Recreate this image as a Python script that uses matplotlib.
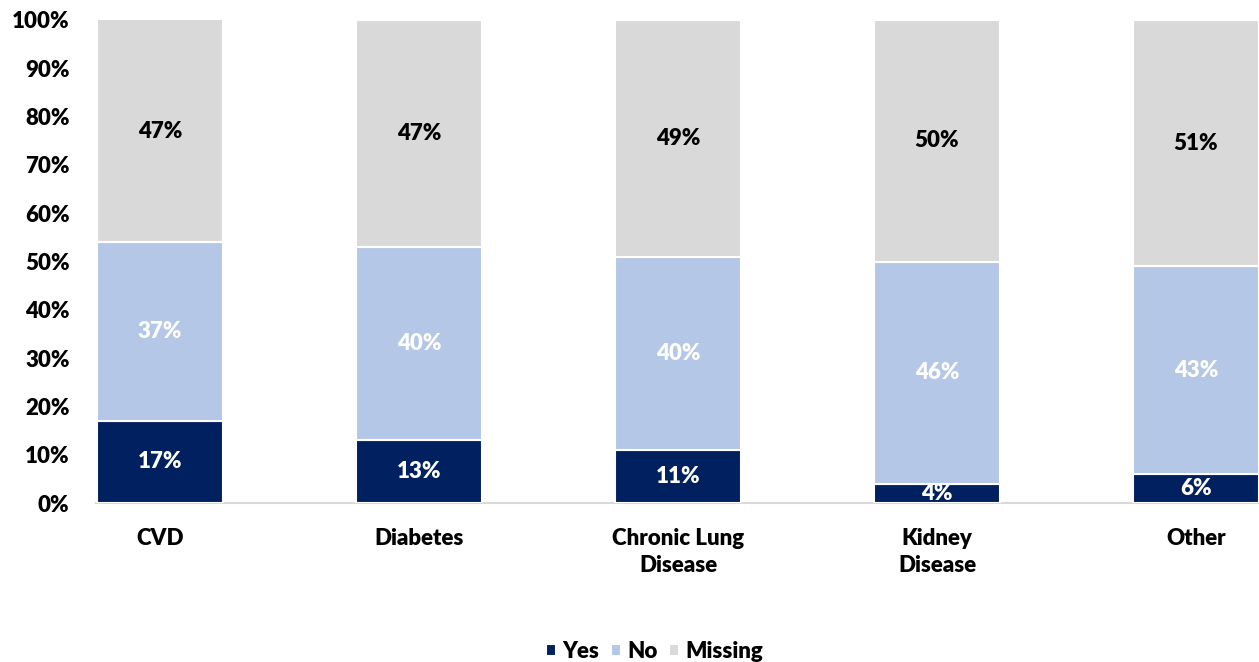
import matplotlib
matplotlib.use('Agg')
import matplotlib.pyplot as plt
import numpy as np

plt.rcParams['font.family'] = ['Lato', 'DejaVu Sans']
plt.rcParams['font.weight'] = 'heavy'

categories = ['CVD', 'Diabetes', 'Chronic Lung\nDisease', 'Kidney\nDisease', 'Other']
yes = [17, 13, 11, 4, 6]
no = [37, 40, 40, 46, 43]
missing = [47, 47, 49, 50, 51]
series_names = ['Yes', 'No', 'Missing']
colors = ['#002060', '#B4C7E7', '#D9D9D9']
label_colors = ['white', 'white', 'black']
fw = 'heavy'

fig = plt.figure(figsize=(12.59, 6.62), dpi=100)
ax = fig.add_axes([96 / 1259, 1 - 503 / 662, 1 - 96 / 1259, (503 - 20) / 662])

x = np.arange(len(categories))
width = 0.49
bottom = np.zeros(len(categories))
for name, vals, col, lc in zip(series_names, [yes, no, missing], colors, label_colors):
    vals = np.array(vals, dtype=float)
    bars = ax.bar(x, vals / 100, width, bottom=bottom / 100, color=col,
                  edgecolor='white', linewidth=1.5, label=name)
    ax.bar_label(bars, labels=['%d%%' % v for v in vals], label_type='center',
                 color=lc, fontsize=16, fontweight=fw)
    bottom += vals

ax.set_ylim(0, 1)
ax.set_xlim(-64 / 259, 4 + 63 / 259)
ax.set_yticks(np.arange(0, 1.01, 0.1))
ax.set_yticklabels(['%d%%' % (v * 10) for v in range(11)], fontsize=16, fontweight=fw)
ax.set_xticks(x)
ax.set_xticklabels(categories, fontsize=16, fontweight=fw, linespacing=1.35)
ax.tick_params(axis='both', length=0)
ax.tick_params(axis='y', pad=19)
ax.tick_params(axis='x', pad=18)
for s in ['top', 'right', 'left']:
    ax.spines[s].set_visible(False)
ax.spines['bottom'].set_color('#D9D9D9')
ax.spines['bottom'].set_linewidth(1.5)
ax.spines['bottom'].set_zorder(0)

fig.legend(loc='lower center', bbox_to_anchor=(0.52, -0.03), ncol=3, frameon=False,
           handlelength=0.45, handleheight=0.45, handletextpad=0.3,
           columnspacing=0.5, prop={'weight': fw, 'size': 16})

fig.savefig('out.png', dpi=100)
